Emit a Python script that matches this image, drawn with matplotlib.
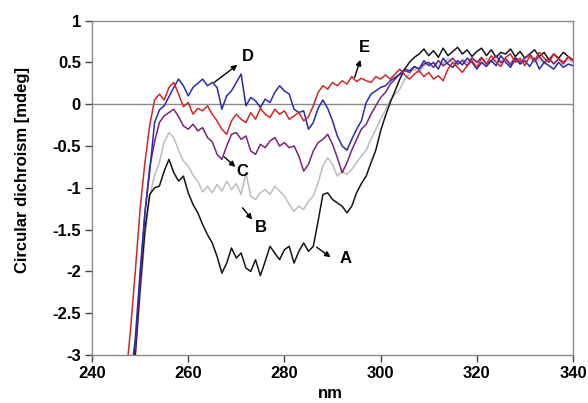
import numpy as np
import matplotlib
matplotlib.use("Agg")
import matplotlib.pyplot as plt

plt.rcParams['font.family'] = ['Liberation Sans', 'DejaVu Sans']
plt.rcParams['font.weight'] = 'bold'

# wavelength grid (nm), one reading per nm
wl = np.arange(247, 341)

# sample A (black)
cd_a = [-3.6, -3.4, -3.0, -2.2, -1.5, -1.08, -1.0, -0.98, -0.8, -0.66,
        -0.82, -0.92, -0.86, -1.06, -1.2, -1.3, -1.44, -1.56, -1.66, -1.82,
        -2.02, -1.9, -1.72, -1.84, -1.78, -1.96, -2.0, -1.86, -2.05, -1.88,
        -1.7, -1.78, -1.86, -1.74, -1.7, -1.9, -1.76, -1.66, -1.76, -1.7,
        -1.4, -1.08, -1.06, -1.14, -1.18, -1.22, -1.3, -1.22, -1.06, -0.95,
        -0.86, -0.7, -0.55, -0.32, -0.14, 0.02, 0.16, 0.3, 0.42, 0.5,
        0.56, 0.6, 0.66, 0.58, 0.64, 0.56, 0.67, 0.58, 0.63, 0.68,
        0.6, 0.65, 0.57, 0.63, 0.67, 0.58, 0.65, 0.56, 0.62, 0.6,
        0.66, 0.57, 0.63, 0.55, 0.6, 0.65, 0.57, 0.62, 0.53, 0.6,
        0.55, 0.62, 0.57, 0.53]

# sample B (light grey)
cd_b = [-3.6, -3.4, -3.0, -2.3, -1.6, -1.1, -0.85, -0.7, -0.45, -0.34,
        -0.4, -0.55, -0.68, -0.74, -0.85, -0.92, -1.05, -0.98, -1.06, -0.96,
        -1.04, -0.92, -1.02, -0.95, -1.08, -0.82, -1.1, -1.14, -1.06, -1.02,
        -1.08, -0.98, -1.04, -1.1, -1.2, -1.28, -1.22, -1.26, -1.16, -1.1,
        -0.94, -0.74, -0.64, -0.72, -0.86, -0.8, -0.84, -0.78, -0.7, -0.62,
        -0.55, -0.42, -0.3, -0.18, -0.07, 0.05, 0.12, 0.18, 0.3, 0.36,
        0.42, 0.38, 0.46, 0.5, 0.44, 0.52, 0.48, 0.55, 0.5, 0.46,
        0.54, 0.5, 0.56, 0.52, 0.48, 0.55, 0.5, 0.53, 0.48, 0.55,
        0.5, 0.56, 0.52, 0.5, 0.55, 0.5, 0.54, 0.48, 0.53, 0.5,
        0.55, 0.5, 0.53, 0.5]

# sample C (purple)
cd_c = [-3.5, -3.3, -2.9, -2.1, -1.3, -0.75, -0.45, -0.22, -0.14, -0.1,
        -0.06, -0.15, -0.26, -0.3, -0.24, -0.32, -0.28, -0.4, -0.45, -0.6,
        -0.66, -0.5, -0.36, -0.34, -0.42, -0.38, -0.56, -0.6, -0.48, -0.52,
        -0.44, -0.4, -0.5, -0.46, -0.52, -0.5, -0.62, -0.8, -0.72, -0.56,
        -0.46, -0.42, -0.36, -0.48, -0.64, -0.82, -0.7, -0.55, -0.42, -0.3,
        -0.24, -0.12, -0.02, 0.08, 0.14, 0.24, 0.3, 0.36, 0.4, 0.38,
        0.45, 0.42, 0.48, 0.5, 0.44, 0.52, 0.46, 0.5, 0.55, 0.48,
        0.52, 0.46, 0.55, 0.5, 0.56, 0.48, 0.52, 0.58, 0.5, 0.54,
        0.47, 0.56, 0.5, 0.55, 0.6, 0.52, 0.57, 0.5, 0.55, 0.48,
        0.54, 0.5, 0.56, 0.52]

# sample D (blue)
cd_d = [-3.5, -3.3, -2.8, -2.0, -1.3, -0.8, -0.22, -0.07, -0.02, 0.09,
        0.2, 0.3, 0.22, 0.1, 0.2, 0.25, 0.3, 0.22, 0.26, 0.2,
        -0.06, 0.1, 0.16, 0.26, 0.36, -0.02, 0.08, 0.04, -0.04, 0.06,
        0.02, 0.14, 0.22, 0.16, 0.12, -0.06, -0.1, -0.08, -0.3, -0.22,
        -0.05, 0.05, -0.05, -0.2, -0.38, -0.5, -0.55, -0.42, -0.3, -0.2,
        0.02, 0.12, 0.16, 0.2, 0.22, 0.28, 0.32, 0.36, 0.42, 0.4,
        0.45, 0.42, 0.52, 0.46, 0.5, 0.42, 0.55, 0.48, 0.44, 0.52,
        0.47, 0.55, 0.5, 0.42, 0.5, 0.45, 0.52, 0.46, 0.58, 0.5,
        0.44, 0.54, 0.48, 0.52, 0.45, 0.55, 0.42, 0.5, 0.46, 0.42,
        0.5, 0.44, 0.48, 0.46]

# sample E (red)
cd_e = [-3.3, -2.7, -2.0, -1.25, -0.7, -0.25, 0.05, 0.12, 0.05, 0.2,
        0.26, 0.12, -0.03, 0.02, -0.12, -0.05, -0.08, -0.02, -0.12, -0.2,
        -0.3, -0.36, -0.2, -0.12, -0.18, -0.22, -0.1, -0.18, -0.05, -0.12,
        -0.16, -0.06, -0.12, -0.08, -0.18, -0.14, -0.1, -0.2, -0.15, -0.02,
        0.14, 0.22, 0.18, 0.26, 0.22, 0.28, 0.24, 0.33, 0.27, 0.31,
        0.28, 0.26, 0.33, 0.3, 0.35, 0.3, 0.36, 0.42, 0.35, 0.3,
        0.36, 0.4, 0.33, 0.38, 0.3, 0.34, 0.28, 0.42, 0.5, 0.44,
        0.38, 0.46, 0.52, 0.44, 0.55, 0.48, 0.58, 0.5, 0.45, 0.56,
        0.6, 0.5, 0.55, 0.46, 0.58, 0.52, 0.62, 0.55, 0.5, 0.6,
        0.54, 0.48, 0.57, 0.52]

xticks = [240, 260, 280, 300, 320, 340]
yticks = [-3, -2.5, -2, -1.5, -1, -0.5, 0, 0.5, 1]
ytick_labels = ['-3', '-2.5', '-2', '-1.5', '-1', '-0.5', '0', '0.5', '1']

fig = plt.figure(figsize=(5.88, 4.03), dpi=100)
ax = fig.add_axes([0.1565, 0.119, 0.818, 0.830])

ax.axhline(0, color='#8a8a8a', lw=1.0, zorder=1)
ax.plot(wl, cd_b, color='#bdbdbd', lw=1.1, zorder=2)
ax.plot(wl, cd_a, color='#151515', lw=1.1, zorder=3)
ax.plot(wl, cd_c, color='#7a2378', lw=1.1, zorder=4)
ax.plot(wl, cd_d, color='#2a2ab0', lw=1.1, zorder=5)
ax.plot(wl, cd_e, color='#d02828', lw=1.1, zorder=6)

ax.set_xlim(240, 340)
ax.set_ylim(-3, 1)
ax.set_xticks(xticks)
ax.set_yticks(yticks)
ax.set_yticklabels(ytick_labels)
ax.tick_params(direction='out', length=5, width=1, color='#444444',
               labelsize=12, pad=3)
for s in ax.spines.values():
    s.set_color('#8a8a8a')
    s.set_linewidth(1.0)

ax.set_ylabel('Circular dichroism [mdeg]', fontsize=12, fontweight='bold')
ax.yaxis.set_label_coords(-0.128, 0.553)
ax.set_xlabel('nm', fontsize=12, fontweight='bold')
ax.xaxis.set_label_coords(0.495, -0.093)

# labels with short pointer arrows
labels = [
    ('D', (272.3, 0.57), (265.4, 0.26), (270.2, 0.47)),
    ('E', (296.7, 0.68), (294.6, 0.32), (295.8, 0.53)),
    ('C', (271.3, -0.81), (267.5, -0.63), (269.8, -0.75)),
    ('B', (275.2, -1.47), (271.3, -1.24), (273.3, -1.38)),
    ('A', (292.7, -1.84), (286.7, -1.71), (289.6, -1.83)),
]
for name, tpos, tail, head in labels:
    ax.text(tpos[0], tpos[1], name, fontsize=12, fontweight='bold',
            ha='center', va='center', zorder=8)
    ax.annotate('', xy=head, xytext=tail,
                arrowprops=dict(arrowstyle='-|>', color='black', lw=1.0,
                                mutation_scale=8, shrinkA=0, shrinkB=0),
                zorder=8)

fig.savefig('out.png', dpi=100)
